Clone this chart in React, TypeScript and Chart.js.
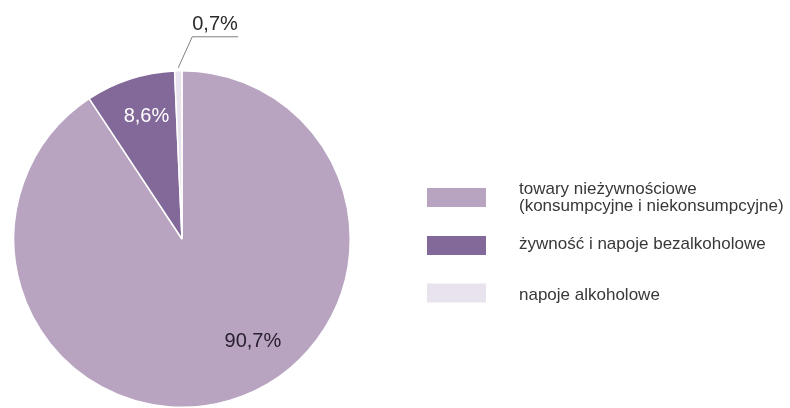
import React, { useEffect, useRef } from "react";
import { Chart, registerables } from "chart.js";

Chart.register(...registerables);

const categories: string[][] = [
  ["towary nieżywnościowe", "(konsumpcyjne i niekonsumpcyjne)"],
  ["żywność i napoje bezalkoholowe"],
  ["napoje alkoholowe"],
];
const values: number[] = [90.7, 8.6, 0.7];
const valueLabels: string[] = ["90,7%", "8,6%", "0,7%"];
const colors: string[] = ["#b8a4c1", "#836999", "#e8e3ed"];

const FONT = "'Liberation Sans', Arial, sans-serif";

const labelPlugin = {
  id: "sliceLabels",
  afterDatasetsDraw(chart: any) {
    const ctx = chart.ctx as CanvasRenderingContext2D;
    const meta = chart.getDatasetMeta(0);
    ctx.save();
    ctx.font = `20px ${FONT}`;
    ctx.textBaseline = "middle";
    meta.data.forEach((arc: any, i: number) => {
      const { x, y, startAngle, endAngle, outerRadius } = arc.getProps(
        ["x", "y", "startAngle", "endAngle", "outerRadius"],
        true
      );
      if (i === 0) {
        const a = startAngle + (endAngle - startAngle) * 0.445;
        const r = outerRadius * 0.74;
        ctx.fillStyle = "#2a2030";
        ctx.textAlign = "center";
        ctx.fillText(valueLabels[i], x + Math.cos(a) * r, y + Math.sin(a) * r);
      } else if (i === 1) {
        const a = startAngle + (endAngle - startAngle) * 0.56;
        const r = outerRadius * 0.76;
        ctx.fillStyle = "#ffffff";
        ctx.textAlign = "center";
        ctx.fillText(valueLabels[i], x + Math.cos(a) * r, y + Math.sin(a) * r);
      } else {
        const a = (startAngle + endAngle) / 2;
        const x0 = x + Math.cos(a) * (outerRadius + 3);
        const y0 = y + Math.sin(a) * (outerRadius + 3);
        const x1 = x0 + 14;
        const y1 = y0 - 31;
        const x2 = x1 + 46;
        ctx.strokeStyle = "#808080";
        ctx.lineWidth = 1;
        ctx.beginPath();
        ctx.moveTo(x0, y0);
        ctx.lineTo(x1, y1);
        ctx.lineTo(x2, y1);
        ctx.stroke();
        ctx.fillStyle = "#2a2a2a";
        ctx.textAlign = "left";
        ctx.textBaseline = "alphabetic";
        ctx.fillText(valueLabels[i], x1, y1 - 7);
        ctx.textBaseline = "middle";
      }
    });
    ctx.restore();
  },
};

const legendPlugin = {
  id: "customLegend",
  afterDraw(chart: any) {
    const ctx = chart.ctx as CanvasRenderingContext2D;
    ctx.save();
    const boxX = 427;
    const boxW = 59;
    const boxH = 19;
    const centers = [197.5, 245.5, 293];
    const baselineOffsets = [-3.5, 3.5, 7];
    const textX = 519;
    const lh = 17;
    ctx.font = `17px ${FONT}`;
    ctx.textAlign = "left";
    ctx.textBaseline = "alphabetic";
    categories.forEach((lines, i) => {
      const cy = centers[i];
      ctx.fillStyle = colors[i];
      ctx.fillRect(boxX, cy - boxH / 2, boxW, boxH);
      ctx.fillStyle = "#383838";
      lines.forEach((ln, j) => {
        ctx.fillText(ln, textX, cy + baselineOffsets[i] + j * lh);
      });
    });
    ctx.restore();
  },
};

export default function App() {
  const ref = useRef<HTMLCanvasElement | null>(null);
  useEffect(() => {
    if (!ref.current) return;
    const chart = new Chart(ref.current, {
      type: "pie",
      data: {
        labels: categories.map((c) => c.join(" ")),
        datasets: [
          {
            data: values,
            backgroundColor: colors,
            borderColor: "#ffffff",
            borderWidth: 1.5,
          },
        ],
      },
      options: {
        responsive: false,
        animation: false,
        layout: { padding: { left: 13, top: 70, right: 439, bottom: 0 } },
        plugins: {
          legend: { display: false },
          tooltip: { enabled: false },
        },
      },
      plugins: [labelPlugin, legendPlugin],
    });
    return () => chart.destroy();
  }, []);
  return (
    <div style={{ position: "fixed", left: 0, top: 0, width: 790, height: 408, background: "#fff" }}>
      <canvas ref={ref} width={790} height={408} style={{ width: 790, height: 408, display: "block" }} />
    </div>
  );
}
